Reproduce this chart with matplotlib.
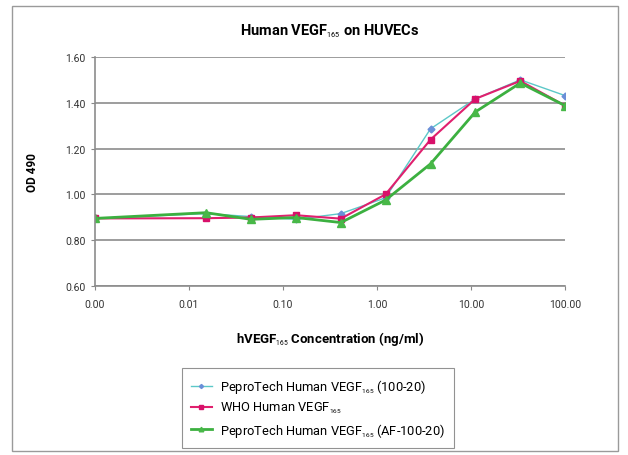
import matplotlib
matplotlib.use("Agg")
import matplotlib.pyplot as plt
import matplotlib._mathtext as mt
from matplotlib.patches import Rectangle

plt.rcParams["font.family"] = ["Roboto", "DejaVu Sans"]
plt.rcParams["mathtext.fontset"] = "custom"
plt.rcParams["mathtext.rm"] = "Roboto"
plt.rcParams["mathtext.it"] = "Roboto:italic"
plt.rcParams["mathtext.bf"] = "Roboto:bold"
# the subscripts in the original are very small
mt.SHRINK_FACTOR = 0.5

# concentrations (ng/ml); the zero point is drawn at 0.001 on the log axis
conc = [0.001, 0.0152, 0.0457, 0.137, 0.412, 1.23, 3.70, 11.1, 33.3, 100.0]
pepro = [0.895, 0.916, 0.903, 0.891, 0.916, 0.985, 1.286, 1.417, 1.500, 1.431]
who = [0.895, 0.896, 0.899, 0.909, 0.894, 1.000, 1.239, 1.417, 1.495, 1.387]
pepro_af = [0.895, 0.920, 0.891, 0.899, 0.877, 0.975, 1.133, 1.360, 1.486, 1.387]

xticks = [0.001, 0.01, 0.1, 1, 10, 100]
xticklabels = ["0.00", "0.01", "0.10", "1.00", "10.00", "100.00"]
yticks = [0.6, 0.8, 1.0, 1.2, 1.4, 1.6]

fig = plt.figure(figsize=(6.28, 4.56), dpi=100)
fig.patches.append(Rectangle((0.019, 0.009), 0.965, 0.975, transform=fig.transFigure,
                             fill=False, edgecolor="#9a9a9a", linewidth=1.0))
ax = fig.add_axes([0.151, 0.3706, 0.749, 0.5024])

ax.plot(conc, pepro, color="#5cc8c8", linewidth=1.0, marker="D", markersize=3.5,
        markerfacecolor="#6a8fd8", markeredgecolor="#6a8fd8",
        label="PeproTech Human VEGF$_{165}$ (100-20)")
ax.plot(conc, who, color="#e0206e", linewidth=1.5, marker="s", markersize=4.5,
        markerfacecolor="#d8106a", markeredgecolor="#d8106a",
        label="WHO Human VEGF$_{165}$")
ax.plot(conc, pepro_af, color="#3cb040", linewidth=2.0, marker="^", markersize=5.5,
        markerfacecolor="#48b848", markeredgecolor="#48b848",
        label="PeproTech Human VEGF$_{165}$ (AF-100-20)")

ax.set_xscale("log")
ax.set_xlim(0.001, 100)
ax.set_ylim(0.6, 1.6)
ax.set_xticks(xticks)
ax.set_xticklabels(xticklabels)
ax.minorticks_off()
ax.set_yticks(yticks)
ax.set_yticklabels(["%.2f" % v for v in yticks])
ax.tick_params(labelsize=7.5, colors="#333333", length=3, color="#888888")
ax.tick_params(axis="x", pad=6)
ax.grid(axis="y", color="#8c8c8c", linewidth=1.2)
ax.set_axisbelow(True)
for s in ["top", "right"]:
    ax.spines[s].set_visible(False)
for s in ["left", "bottom"]:
    ax.spines[s].set_color("#8c8c8c")
    ax.spines[s].set_linewidth(1.2)

ax.set_title("Human VEGF$_{165}$ on HUVECs", fontsize=10.5, fontweight="bold", pad=16)
ax.set_ylabel("OD 490", fontsize=8.5, fontweight="bold", labelpad=19)
ax.set_xlabel("hVEGF$_{165}$ Concentration (ng/ml)", fontsize=9.5, fontweight="bold", labelpad=15)

leg = ax.legend(loc="upper center", bbox_to_anchor=(0.474, -0.33), fontsize=9.3,
                frameon=True, fancybox=False, edgecolor="#777777", handlelength=1.6,
                markerscale=0.6, borderpad=0.7, labelspacing=0.4, handletextpad=0.6)
leg.get_frame().set_linewidth(0.8)

fig.savefig("out.png", dpi=100)
